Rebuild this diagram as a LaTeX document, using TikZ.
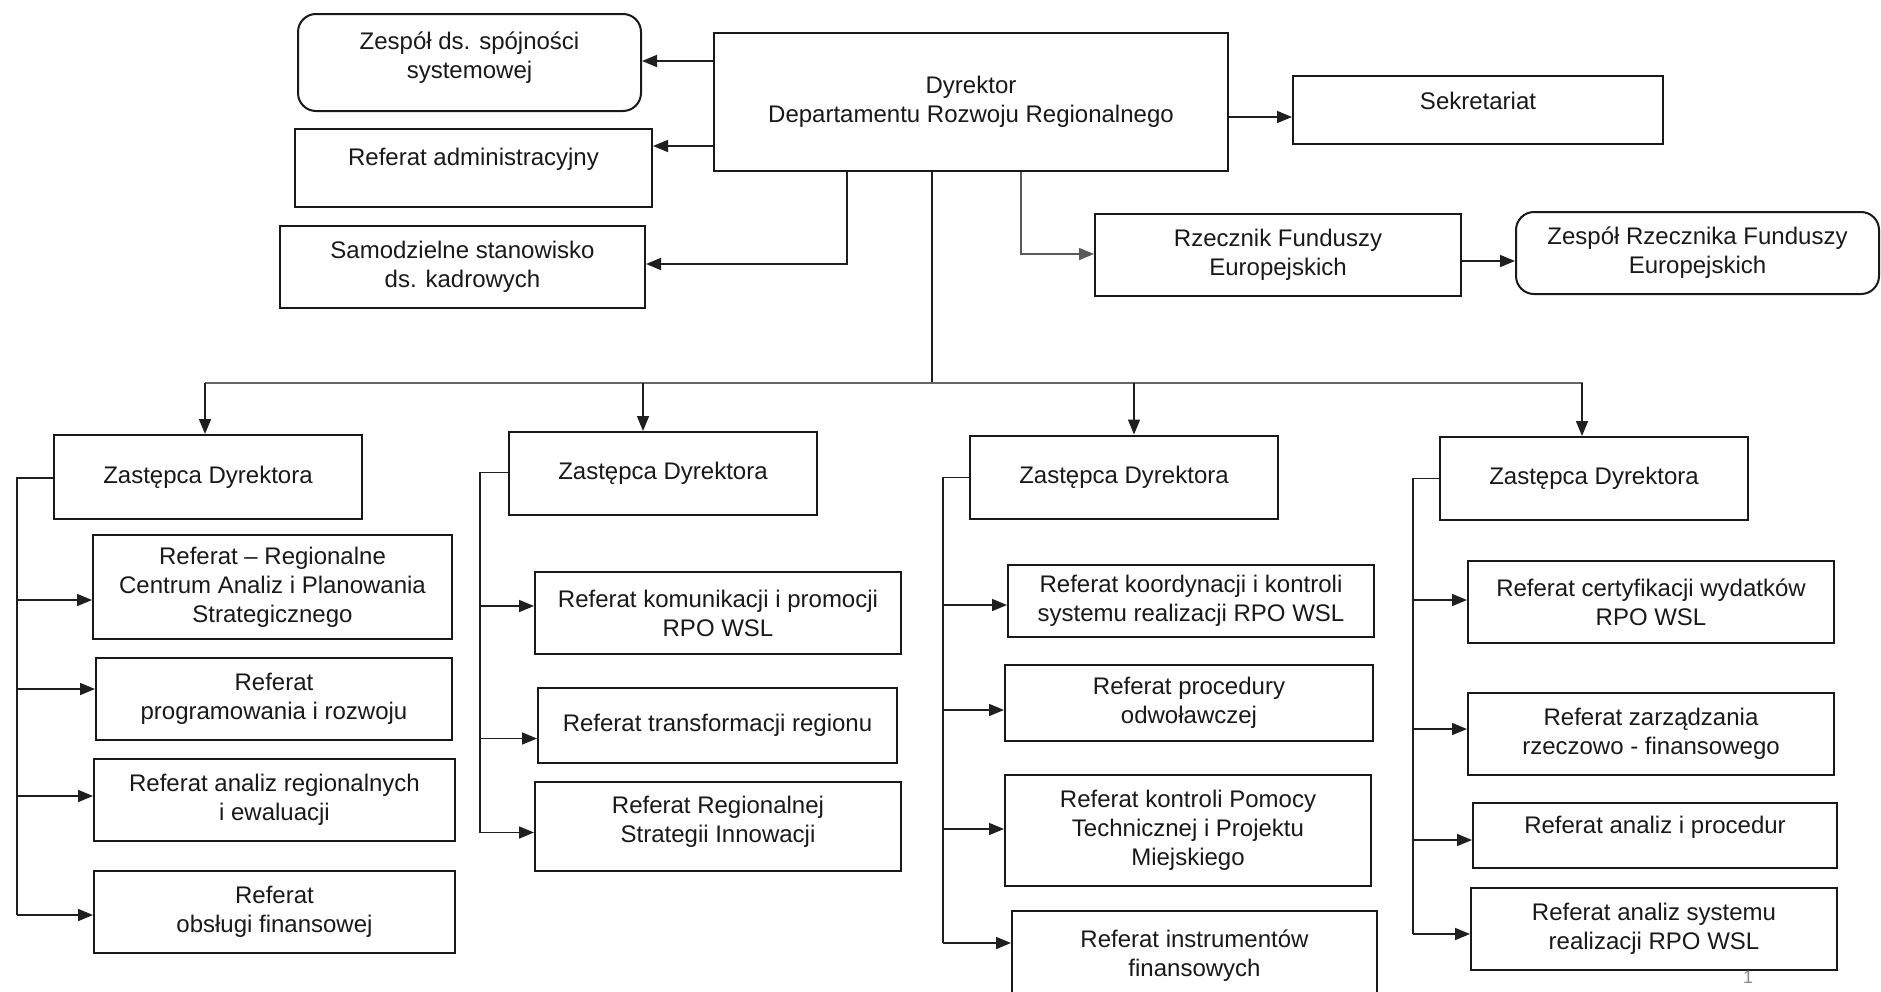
\documentclass[tikz,border=0pt]{standalone}
\usepackage{fontspec}
\setmainfont{Liberation Sans}
\usetikzlibrary{arrows.meta}
\begin{document}
\begin{tikzpicture}[x=1pt,y=-1pt,
  bx/.style={draw=black!90, line width=2pt, align=center, inner sep=0pt, text=black!90, font=\fontsize{24}{29}\selectfont},
  rbx/.style={bx, rounded corners=18pt},
  sz/.style 2 args={minimum width=#1pt, minimum height=#2pt},
  glab/.style={font=\fontsize{24}{29}\selectfont, text=black!90, align=center, inner sep=0pt},
  ln/.style={draw=black!88, line width=1.6pt},
  gln/.style={draw=black!60, line width=2pt},
  arr/.style={ln, -{Triangle[length=15pt,width=12pt]}},
]
\fill[white] (0,0) rectangle (1881,991);
\useasboundingbox (0,0) rectangle (1881,991);

% top level
\node[rbx, sz={343}{97}, label={[glab, yshift=5pt]center:Zespół ds. spójności\\systemowej}] (ZS) at (469.5,62.5) {};
\node[bx, sz={514}{138}] (DY) at (971,102) {Dyrektor\\Departamentu Rozwoju Regionalnego};
\node[bx, sz={357}{78}, label={[glab, yshift=9pt]center:Referat administracyjny}] (RA) at (473.5,168) {};
\node[bx, sz={365}{82}] (SK) at (462.5,267) {Samodzielne stanowisko\\ds. kadrowych};
\node[bx, sz={370}{68}, label={[glab, yshift=9pt]center:Sekretariat}] (SE) at (1478,110) {};
\node[bx, sz={366}{82}] (RZ) at (1278,255) {Rzecznik Funduszy\\Europejskich};
\node[rbx, sz={363}{82}] (ZR) at (1697.5,253) {Zespół Rzecznika Funduszy\\Europejskich};

\draw[arr] (DY.west |- 0,61) -- (ZS.east |- 0,61);
\draw[arr] (DY.west |- 0,146) -- (RA.east |- 0,146);
\draw[arr] (DY.south -| 847,0) |- (SK.east |- 0,264);
\draw[arr, draw=black!65] (DY.south -| 1021,0) |- (RZ.west |- 0,254);
\draw[arr] (DY.east |- 0,117) -- (SE.west |- 0,117);
\draw[arr] (RZ.east |- 0,261) -- (ZR.west |- 0,261);

% deputies
\node[bx, sz={308}{84}] (Z1) at (208,477) {Zastępca Dyrektora};
\node[bx, sz={308}{83}] (Z2) at (663,473.5) {Zastępca Dyrektora};
\node[bx, sz={308}{83}] (Z3) at (1124,477) {Zastępca Dyrektora};
\node[bx, sz={308}{83}] (Z4) at (1594,478.5) {Zastępca Dyrektora};

\coordinate (bus) at (932,383);
\draw[ln] (DY.south -| bus) -- (bus);
\draw[gln] (205,383) -- (1583,383);
\draw[arr] (205,383) -- (Z1.north -| 205,0);
\draw[arr] (643,383) -- (Z2.north -| 643,0);
\draw[arr] (1134,383) -- (Z3.north -| 1134,0);
\draw[arr] (1582,383) -- (Z4.north -| 1582,0);

% column 1
\node[bx, sz={359}{104}] (A1) at (272.5,587) {Referat – Regionalne\\Centrum Analiz i Planowania\\Strategicznego};
\node[bx, sz={356}{82}] (A2) at (274,699) {Referat\\programowania i rozwoju};
\node[bx, sz={361}{82}] (A3) at (274.5,800) {Referat analiz regionalnych\\i ewaluacji};
\node[bx, sz={361}{82}] (A4) at (274.5,912) {Referat\\obsługi finansowej};
\draw[ln] (Z1.west |- 0,478) -- (17,478) -- (17,915);
\draw[arr] (17,600) -- (A1.west |- 0,600);
\draw[arr] (17,689) -- (A2.west |- 0,689);
\draw[arr] (17,796) -- (A3.west |- 0,796);
\draw[arr] (17,915) -- (A4.west |- 0,915);

% column 2
\node[bx, sz={366}{82}] (B1) at (718,613) {Referat komunikacji i promocji\\RPO WSL};
\node[bx, sz={359}{75}] (B2) at (717.5,725.5) {Referat transformacji regionu};
\node[bx, sz={366}{89}, label={[glab, yshift=5pt]center:Referat Regionalnej\\Strategii Innowacji}] (B3) at (718,826.5) {};
\draw[ln] (Z2.west |- 0,472.5) -- (480,472.5) -- (480,832.5);
\draw[arr] (480,606) -- (B1.west |- 0,606);
\draw[arr] (480,738.5) -- (B2.west |- 0,738.5);
\draw[arr] (480,832.5) -- (B3.west |- 0,832.5);

% column 3
\node[bx, sz={366}{72}] (C1) at (1191,600.7) {Referat koordynacji i kontroli\\systemu realizacji RPO WSL};
\node[bx, sz={368}{76}] (C2) at (1189,703) {Referat procedury\\odwoławczej};
\node[bx, sz={366}{111}] (C3) at (1188,830.5) {Referat kontroli Pomocy\\Technicznej i Projektu\\Miejskiego};
\node[bx, sz={365}{90}] (C4) at (1194.5,956) {Referat instrumentów\\finansowych};
\draw[ln] (Z3.west |- 0,477.4) -- (943,477.4) -- (943,943);
\draw[arr] (943,605) -- (C1.west |- 0,605);
\draw[arr] (943,710) -- (C2.west |- 0,710);
\draw[arr] (943,829) -- (C3.west |- 0,829);
\draw[arr] (943,943) -- (C4.west |- 0,943);

% column 4
\node[bx, sz={366}{82}] (D1) at (1651,602) {Referat certyfikacji wydatków\\RPO WSL};
\node[bx, sz={366}{82}] (D2) at (1651,734) {Referat zarządzania\\rzeczowo - finansowego};
\node[bx, sz={364}{65}, label={[glab, yshift=8pt]center:Referat analiz i procedur}] (D3) at (1655,835) {};
\node[bx, sz={366}{82}] (D4) at (1654,929) {Referat analiz systemu\\realizacji RPO WSL};
\draw[ln] (Z4.west |- 0,478.6) -- (1413,478.6) -- (1413,934);
\draw[arr] (1413,600) -- (D1.west |- 0,600);
\draw[arr] (1413,729) -- (D2.west |- 0,729);
\draw[arr] (1413,840) -- (D3.west |- 0,840);
\draw[arr] (1413,934) -- (D4.west |- 0,934);

\node[text=black!45, font=\fontsize{18}{20}\selectfont, inner sep=0pt] (pg) at (1748,977) {1};
\end{tikzpicture}
\end{document}
